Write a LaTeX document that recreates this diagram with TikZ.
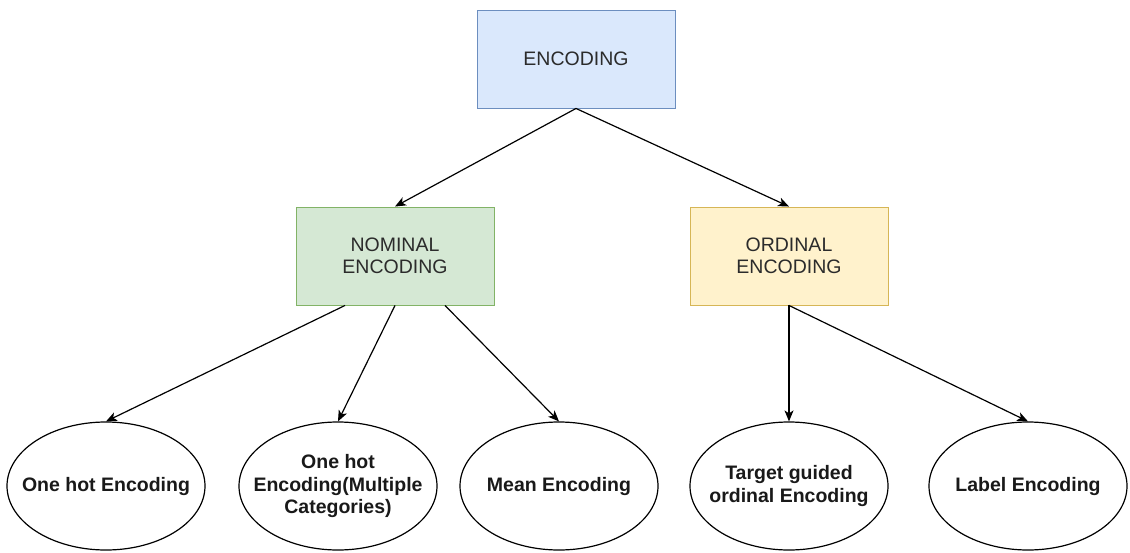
\documentclass[tikz,border=0pt]{standalone}
\usepackage{fontspec}
\setmainfont{Liberation Sans}
\usetikzlibrary{shapes.geometric,arrows.meta}
\definecolor{blueFill}{HTML}{DAE8FC}
\definecolor{blueLine}{HTML}{6C8EBF}
\definecolor{greenFill}{HTML}{D5E8D4}
\definecolor{greenLine}{HTML}{82B366}
\definecolor{yellowFill}{HTML}{FFF2CC}
\definecolor{yellowLine}{HTML}{D6B656}
\definecolor{boxText}{HTML}{2B2B2B}
\tikzset{
  catbox/.style={rectangle, draw=#1Line, fill=#1Fill, line width=0.9pt,
    minimum width=198pt, minimum height=98pt, inner sep=0pt, align=center,
    text=boxText, font=\fontsize{19.5}{22}\selectfont},
  method/.style={ellipse, draw=black, line width=1.2pt, fill=white,
    minimum width=198pt, minimum height=128pt, inner sep=0pt,
    label={[methodtext]center:#1}},
  methodtext/.style={align=center, inner sep=0pt, text=black!90,
    font=\fontsize{19.5}{22.5}\selectfont\bfseries},
  arr/.style={draw=black, line width=1.2pt,
    -{Stealth[length=11pt, width=9pt, inset=3pt]}}
}
\begin{document}
\begin{tikzpicture}[x=1pt, y=-1pt]
  \useasboundingbox (0,0) rectangle (1130,552);
  \fill[white] (0,0) rectangle (1130,552);

  % category boxes
  \node[catbox=blue]   (enc) at (576,59)  {ENCODING};
  \node[catbox=green]  (nom) at (395,256) {NOMINAL\\ENCODING};
  \node[catbox=yellow] (ord) at (789,256) {ORDINAL\\ENCODING};

  % encoding methods (ellipse keeps its fixed size, text sits on top)
  \node[method={One hot Encoding}] (onehot) at (106,486) {};
  \node[method={One hot\\Encoding(Multiple\\Categories)}] (onemult) at (338,486) {};
  \node[method={Mean Encoding}] (mean) at (559,486) {};
  \node[method={Target guided\\ordinal Encoding}] (target) at (789,486) {};
  \node[method={Label Encoding}] (label) at (1028,486) {};

  % exit points along the bottom of the nominal box
  \coordinate (nomL) at ([xshift=-50pt]nom.south);
  \coordinate (nomR) at ([xshift=50pt]nom.south);

  % connectors
  \draw[arr] (enc.south) -- (nom.north);
  \draw[arr] (enc.south) -- (ord.north);
  \draw[arr] (nomL) -- (onehot.north);
  \draw[arr] (nom.south) -- (onemult.north);
  \draw[arr] (nomR) -- (mean.north);
  \draw[arr] (ord.south) -- (target.north);
  \draw[arr] (ord.south) -- (label.north);
\end{tikzpicture}
\end{document}
